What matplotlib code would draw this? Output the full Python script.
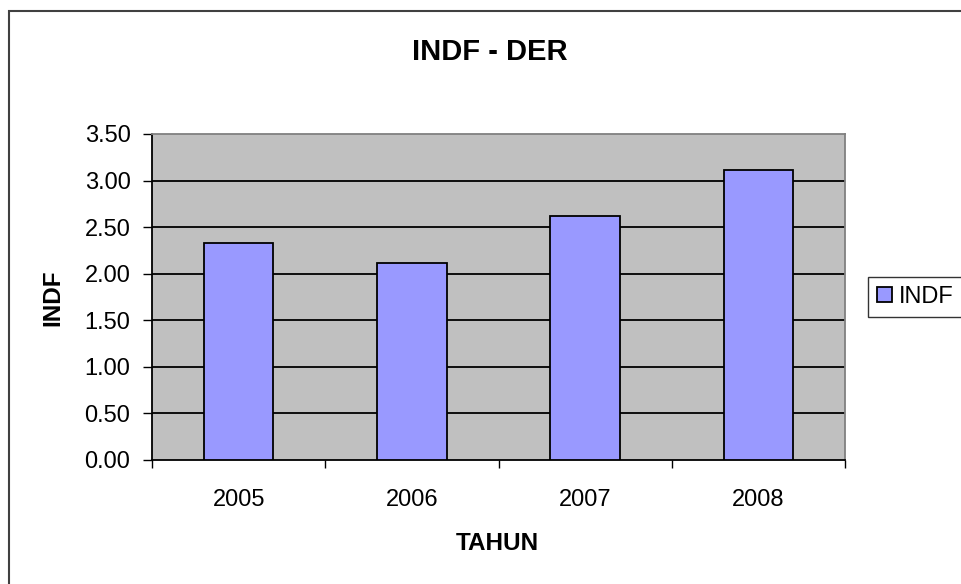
import numpy as np
import matplotlib.pyplot as plt
from matplotlib.patches import Rectangle

years = ["2005", "2006", "2007", "2008"]
indf = [2.33, 2.12, 2.62, 3.11]
yticks = [0.0, 0.5, 1.0, 1.5, 2.0, 2.5, 3.0, 3.5]

plt.rcParams["font.family"] = ["Liberation Sans", "DejaVu Sans"]

W, H = 961, 584
fig = plt.figure(figsize=(W / 100, H / 100), dpi=100)
ax = fig.add_axes([152 / W, 1 - 460 / H, (845 - 152) / W, (460 - 134) / H])
ax.set_facecolor("#C0C0C0")

x = np.arange(len(years))
ax.bar(x, indf, width=0.4, color="#9999FF", edgecolor="black", linewidth=1.3,
       label="INDF", zorder=3)

ax.set_xlim(-0.5, len(years) - 0.5)
ax.set_ylim(0, 3.5)
ax.set_yticks(yticks)
ax.set_yticklabels(["%.2f" % v for v in yticks], fontsize=17)
ax.set_xticks(x)
ax.set_xticklabels(years, fontsize=17)
ax.tick_params(axis="x", length=0, pad=21)
ax.set_xticks(np.arange(-0.5, len(years)), minor=True)
ax.tick_params(axis="x", which="minor", length=6, direction="out", width=1)
ax.tick_params(axis="y", length=6.5, direction="out", width=1, pad=9)

for v in yticks[1:-1]:
    ax.axhline(v, color="black", linewidth=1.3, zorder=1)

for s in ["left", "bottom"]:
    ax.spines[s].set_color("black")
    ax.spines[s].set_linewidth(1.3)
for s in ["top", "right"]:
    ax.spines[s].set_color("#808080")
    ax.spines[s].set_linewidth(1.3)

fig.text(490 / W, 1 - 52 / H, "INDF - DER", fontsize=21, fontweight="bold",
         ha="center", va="center")
fig.text(497 / W, 1 - 544 / H, "TAHUN", fontsize=17.5, fontweight="bold",
         ha="center", va="center")
fig.text(53 / W, 1 - 298 / H, "INDF", fontsize=17.5, fontweight="bold",
         ha="center", va="center", rotation=90)

leg = ax.legend(loc="center left", bbox_to_anchor=(868 / W, 1 - 297 / H),
                bbox_transform=fig.transFigure, frameon=True, fancybox=False,
                fontsize=17, handlelength=0.62, handleheight=0.62,
                handletextpad=0.3, borderpad=0.38, borderaxespad=0)
leg.get_frame().set_edgecolor("black")
leg.get_frame().set_linewidth(1.0)

fig.patches.append(Rectangle((9 / W, -0.1), 1.1, 1 - 11 / H + 0.1,
                             transform=fig.transFigure, fill=False,
                             edgecolor="#404040", linewidth=1.5))

fig.savefig("out.png", dpi=100)
